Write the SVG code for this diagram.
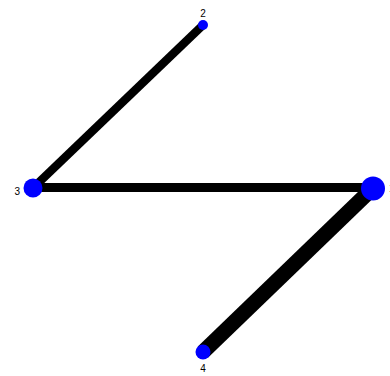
<svg xmlns="http://www.w3.org/2000/svg" width="390" height="376" viewBox="0 0 390 376">
<style>
.edge{stroke:#000;stroke-linecap:butt;fill:none}
.node{fill:#0000ff}
.lbl{font-family:"Liberation Sans",Arial,sans-serif;font-size:10px;fill:#000}
</style>
<rect width="390" height="376" fill="#fff"/>
<g id="edges">
<line class="edge" x1="203" y1="25" x2="33" y2="188" stroke-width="8.5"/>
<line class="edge" x1="33" y1="187.5" x2="373" y2="187.5" stroke-width="9"/>
<line class="edge" x1="373" y1="188" x2="203" y2="352" stroke-width="15"/>
</g>
<g id="node1"><circle class="node" cx="373" cy="188.5" r="12"/><text class="lbl" x="389" y="192">1</text></g>
<g id="node2"><circle class="node" cx="203" cy="25" r="5"/><text class="lbl" x="203" y="17" text-anchor="middle">2</text></g>
<g id="node3"><circle class="node" cx="33" cy="188" r="9.5"/><text class="lbl" x="20" y="195" text-anchor="end">3</text></g>
<g id="node4"><circle class="node" cx="203" cy="352" r="7.5"/><text class="lbl" x="203" y="372" text-anchor="middle">4</text></g>
</svg>
